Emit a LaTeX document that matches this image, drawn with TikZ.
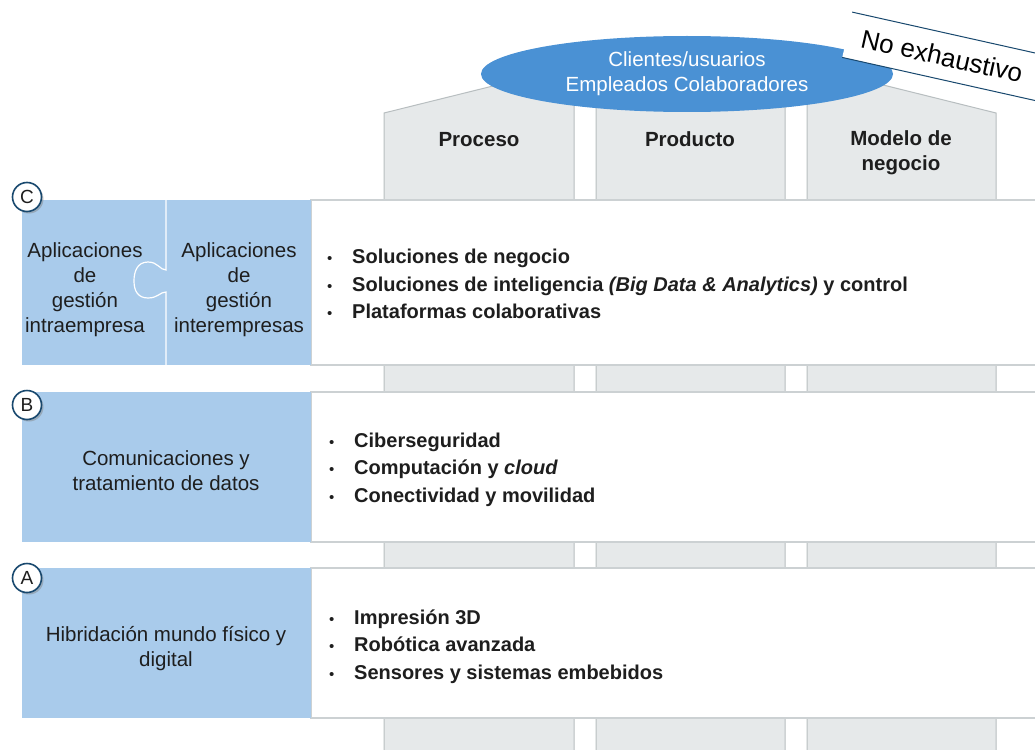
\documentclass[tikz,border=0pt]{standalone}
\usepackage{fontspec}
\setmainfont{Liberation Sans}
\usetikzlibrary{shapes.geometric, shadows}

\definecolor{boxblue}{RGB}{169,203,235}
\definecolor{ovalblue}{RGB}{74,145,212}
\definecolor{pillargray}{RGB}{230,233,234}
\definecolor{pillarline}{RGB}{184,190,192}
\definecolor{panelline}{RGB}{204,209,211}
\definecolor{navyline}{RGB}{24,72,110}
\definecolor{textdark}{RGB}{30,30,30}

\tikzset{
  pillar/.style={fill=pillargray, draw=pillarline, line width=1pt},
  panel/.style={fill=white, draw=panelline, line width=1.5pt},
  bluebox/.style={fill=boxblue},
  boxlabel/.style={font=\fontsize{20.5}{25}\selectfont, text=textdark, align=center, inner sep=0pt},
  headlabel/.style={font=\bfseries\fontsize{20.5}{25}\selectfont, text=textdark, align=center, inner sep=0pt},
  bulletlist/.style={font=\fontsize{20}{27.5}\selectfont, text=textdark, align=left, anchor=west, inner sep=0pt},
  levelmark/.style={circle, draw=navyline, line width=1.6pt, fill=white, minimum size=29pt, inner sep=0pt,
    font=\fontsize{19}{19}\selectfont, text=textdark,
    drop shadow={opacity=0.45, shadow xshift=2pt, shadow yshift=-2pt}}
}

\newcommand{\itm}[1]{\makebox[25pt][l]{\fontsize{15}{15}\selectfont •}\textbf{#1}}

\begin{document}
\begin{tikzpicture}[x=1pt, y=-1pt]
    \clip (0,0) rectangle (1035,749);
    \fill[white] (0,0) rectangle (1035,749);

    % Pillars under one roof, peak at (690,37)
    \draw[pillar] (384,760) -- (384,113) -- (574,65.9) -- (574,760) -- cycle;
    \draw[pillar] (596,760) -- (596,60.4) -- (690,37) -- (785,60.7) -- (785,760) -- cycle;
    \draw[pillar] (807,760) -- (807,66.1) -- (996,113) -- (996,760) -- cycle;
    \node[headlabel] (proc) at (479,139.5) {Proceso};
    \node[headlabel] (prod) at (690,139.5) {Producto};
    \node[headlabel] (model) at (901,152.5) {Modelo de\\negocio};

    % Stakeholders
    \node[ellipse, fill=ovalblue, minimum width=412pt, minimum height=76pt, inner sep=0pt,
        text=white, font=\fontsize{20.5}{25}\selectfont, align=center] (users) at (687,74)
        {Clientes/usuarios\\Empleados Colaboradores};

    % No exhaustivo flag
    \node[fill=white, rotate=-12.6, minimum width=210pt, minimum height=46pt, inner sep=0pt,
        font=\fontsize{26}{26}\selectfont, text=black] (noex) at (949.8,57.7) {No exhaustivo\hspace*{16pt}};
    \draw[navyline, line width=1pt] (noex.north west) -- (noex.north east);
    \draw[navyline, line width=1pt] (noex.south west) -- (noex.south east);

    % Row panels
    \draw[panel] (311,200) rectangle (1045,365);
    \draw[panel] (311,392) rectangle (1045,542);
    \draw[panel] (311,568) rectangle (1045,718);

    % Level C
    \fill[bluebox] (22,200) rectangle (311,365);
    \draw[white, line width=1.2pt] (166,200) -- (166,270)
        .. controls (160,270) and (158,262) .. (148,262)
        .. controls (137,262) and (134,272) .. (134,281)
        .. controls (134,291) and (138,298) .. (148,298)
        .. controls (158,298) and (160,292) .. (166,292) -- (166,365);
    \node[boxlabel] (intra) at (85,290) {Aplicaciones\\de\\gestión\\intraempresa};
    \node[boxlabel] (inter) at (239,290) {Aplicaciones\\de\\gestión\\interempresas};
    \node[bulletlist] (listc) at (327,284) {\itm{Soluciones de negocio}\\
        \itm{Soluciones de inteligencia \textit{(Big Data \& Analytics)} y control}\\
        \itm{Plataformas colaborativas}};
    \node[levelmark] (markc) at (27,197) {C};

    % Level B
    \fill[bluebox] (22,392) rectangle (311,542);
    \node[boxlabel] (comms) at (166,470.5) {Comunicaciones y\\tratamiento de datos};
    \node[bulletlist] (listb) at (329,469.5) {\itm{Ciberseguridad}\\
        \itm{Computación y \textit{cloud}}\\
        \itm{Conectividad y movilidad}};
    \node[levelmark] (markb) at (27,405) {B};

    % Level A
    \fill[bluebox] (22,568) rectangle (311,718);
    \node[boxlabel] (hybrid) at (166,648.5) {Hibridación mundo físico y\\digital};
    \node[bulletlist] (lista) at (329,646.5) {\itm{Impresión 3D}\\
        \itm{Robótica avanzada}\\
        \itm{Sensores y sistemas embebidos}};
    \node[levelmark] (marka) at (27,578) {A};
\end{tikzpicture}
\end{document}
